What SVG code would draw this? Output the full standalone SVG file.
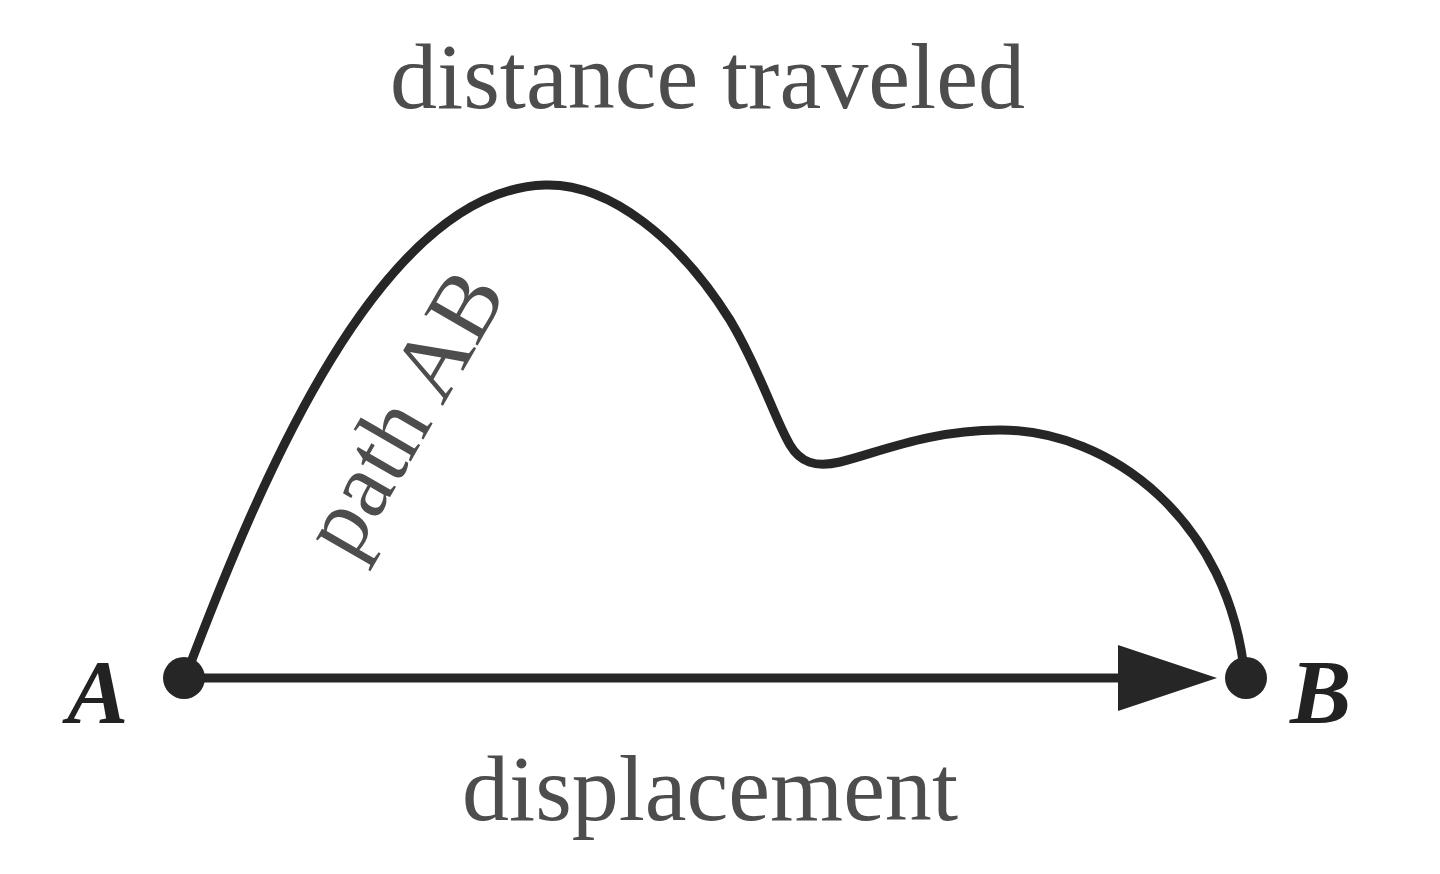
<svg xmlns="http://www.w3.org/2000/svg" width="1440" height="874" viewBox="0 0 1440 874">
<style>
.lbl{font-family:"Liberation Serif","Times New Roman",serif;fill:#4d4d4d;font-size:94px}
.pt{font-family:"Liberation Serif","Times New Roman",serif;fill:#222;font-size:92px;font-weight:bold;font-style:italic}
.ln{fill:none;stroke:#262626;stroke-width:9;stroke-linecap:round;stroke-linejoin:round}
.dot{fill:#262626}
</style>
<rect width="1440" height="874" fill="#ffffff"/>
<g id="connectors">
<path id="path-ab" class="ln" d="M185,678 C260,480 380,190 545,185 C610,183 680,240 730,320 C760,370 775,420 790,445 C800,462 815,468 840,462 C880,452 930,430 1000,430 C1110,430 1230,520 1245,678"/>
<line id="displacement-line" class="ln" x1="185" y1="678" x2="1125" y2="678"/>
<polygon id="arrowhead" class="dot" points="1118,645 1217,678 1118,711"/>
</g>
<g id="node-A">
<circle class="dot" cx="184" cy="678" r="21"/>
<text class="pt" x="67" y="723">A</text>
</g>
<g id="node-B">
<circle class="dot" cx="1246" cy="678" r="21"/>
<text class="pt" x="1290" y="723">B</text>
</g>
<g id="labels">
<text class="lbl" x="390" y="108" textLength="635" lengthAdjust="spacingAndGlyphs">distance traveled</text>
<text class="lbl" x="462" y="820" textLength="496" lengthAdjust="spacingAndGlyphs">displacement</text>
<text class="lbl" transform="translate(430,428) rotate(-60)" text-anchor="middle">path AB</text>
</g>
</svg>
